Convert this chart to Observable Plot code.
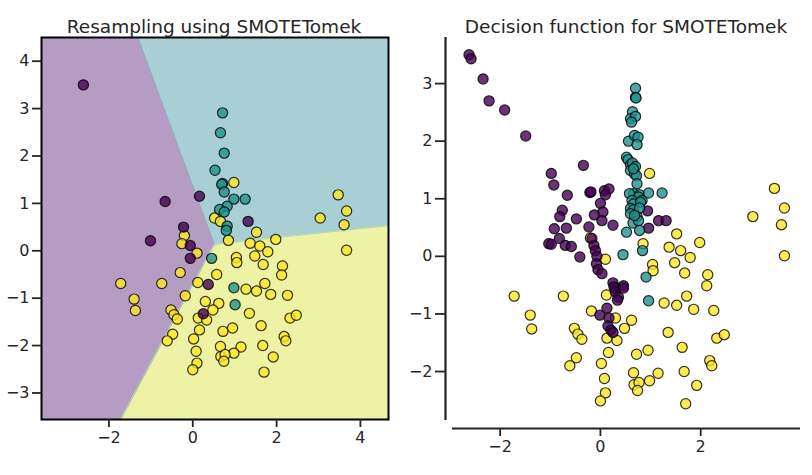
<!DOCTYPE html>
<html><head><meta charset="utf-8">
<script src="https://cdn.jsdelivr.net/npm/d3@7"></script>
<script src="https://cdn.jsdelivr.net/npm/@observablehq/plot@0.6"></script>
<style>
body{margin:0;background:#fff;font-family:"DejaVu Sans",sans-serif;}
#wrap{position:relative;width:812px;height:475px;overflow:hidden;}
.title{position:absolute;top:18px;font-size:18.5px;line-height:18px;color:#262626;white-space:nowrap;transform:translateX(-50%);}
#left{position:absolute;left:0;top:0}
#right{position:absolute;left:400px;top:0}
</style></head><body>
<div id="wrap">
<div id="left"></div><div id="right"></div>
<div class="title" style="left:214px">Resampling using SMOTETomek</div>
<div class="title" style="left:626px">Decision function for SMOTETomek</div>
</div>
<script>
// class colours (viridis)
const classColors = ["#440154", "#21918c", "#fde725"];
const regionColors = ["#b49cc3", "#a8cfd3", "#eef2a4"];

// left panel: original samples
const leftPurple = [[-2.61,3.50],[-0.66,1.04],[0.16,1.15],[1.32,0.62],[-0.22,0.50],[-1.01,0.21],[-0.06,0.11],[-0.06,-0.16],[0.37,-0.71],[0.25,-1.33]];
const leftTeal = [[0.71,2.91],[0.66,2.49],[0.75,2.06],[0.53,1.70],[0.71,1.42],[0.69,1.40],[0.75,1.24],[0.98,1.09],[1.25,1.09],[0.82,0.94],[0.64,0.87],[0.75,0.82],[0.82,0.52],[0.80,0.43],[0.45,-0.16],[0.98,-0.78],[1.01,-1.14]];
const leftYellow = [[0.98,1.44],[0.52,0.69],[0.66,0.62],[-0.20,0.32],[-0.26,0.15],[0.10,-0.05],[0.85,0.22],[1.52,0.39],[1.98,0.24],[1.37,0.16],[1.60,0.10],[1.79,-0.02],[1.48,-0.11],[1.04,-0.14],[3.47,1.18],[3.67,0.84],[3.04,0.69],[3.61,0.55],[3.67,0.01],[1.05,-0.25],[1.68,-0.29],[2.14,-0.32],[2.12,-0.51],[-0.30,-0.46],[0.57,-0.50],[-1.72,-0.69],[-0.74,-0.69],[0.12,-0.67],[1.27,-0.81],[1.52,-0.85],[1.72,-0.69],[1.86,-0.92],[2.26,-0.94],[-1.40,-1.02],[-1.37,-1.26],[-0.18,-0.95],[0.30,-1.07],[0.62,-1.11],[0.48,-1.25],[-0.52,-1.25],[-0.45,-1.35],[-0.37,-1.44],[0.13,-1.42],[0.33,-1.46],[1.35,-1.32],[2.32,-1.42],[2.47,-1.36],[0.16,-1.67],[0.72,-1.70],[0.95,-1.63],[1.63,-1.58],[-0.48,-1.76],[-0.61,-1.90],[0.02,-1.86],[2.18,-1.81],[2.22,-1.90],[0.66,-2.02],[1.15,-2.03],[1.67,-2.00],[0.08,-2.12],[0.98,-2.16],[0.67,-2.23],[0.77,-2.19],[0.74,-2.33],[1.92,-2.24],[0.10,-2.37],[0.00,-2.51],[1.70,-2.56]];

// left panel: decision region boundaries
const purpleEdge = [[-1.31,4.50],[0.514,0.134],[-1.72,-3.56]];
const yellowEdge = [[-1.72,-3.56],[0.514,0.134],[4.67,0.53]];

// right panel: resampled samples
const rightPurple = [[-2.62,3.50],[-2.58,3.43],[-2.34,3.08],[-2.22,2.70],[-1.91,2.54],[-1.49,2.09],[-0.34,1.58],[-0.98,1.44],[-0.93,1.24],[-0.66,1.06],[-0.21,1.11],[-0.19,1.12],[0.08,1.14],[0.17,1.17],[0.10,1.07],[0.00,0.92],[-0.76,0.80],[-0.81,0.69],[-0.48,0.65],[-0.12,0.72],[0.05,0.77],[0.03,0.62],[0.25,0.54],[-0.92,0.48],[-0.68,0.49],[-0.23,0.51],[0.94,0.79],[1.16,0.62],[1.31,0.62],[0.96,0.49],[-1.03,0.22],[-0.98,0.21],[-0.82,0.31],[-0.70,0.19],[-0.58,0.17],[-0.41,-0.01],[-0.17,0.31],[-0.13,0.19],[-0.10,0.10],[-0.07,0.00],[-0.08,-0.13],[-0.05,-0.23],[0.03,-0.30],[0.25,-0.46],[0.46,-0.51],[0.30,-0.56],[0.27,-0.53],[0.30,-0.62],[0.36,-0.71],[0.46,-0.55],[0.34,-0.76],[0.13,-0.90],[-0.01,-1.02],[0.17,-1.07],[0.15,-1.21],[0.21,-1.28],[0.25,-1.32]];
const rightTeal = [[0.70,2.92],[0.70,2.76],[0.71,2.75],[0.64,2.51],[0.60,2.39],[0.70,2.43],[0.62,2.33],[0.56,2.00],[0.68,2.10],[0.75,2.07],[0.73,1.94],[0.52,1.72],[0.55,1.68],[0.60,1.59],[0.64,1.62],[0.70,1.56],[0.60,1.49],[0.68,1.43],[0.72,1.40],[0.66,1.52],[0.73,1.26],[0.66,1.09],[0.78,1.07],[0.96,1.10],[1.23,1.10],[0.58,1.09],[0.76,1.03],[0.83,0.97],[0.63,0.97],[0.66,0.91],[0.80,0.94],[0.60,0.83],[0.66,0.81],[0.78,0.84],[0.60,0.74],[0.73,0.69],[0.65,0.58],[0.76,0.62],[0.68,0.71],[0.78,0.45],[0.52,0.42],[0.84,0.10],[0.45,0.03],[0.91,-0.36],[0.96,-0.77]];
const rightYellow = [[0.98,1.44],[-0.20,0.32],[0.10,-0.05],[0.85,0.22],[1.52,0.39],[1.98,0.24],[1.37,0.16],[1.60,0.10],[1.79,-0.02],[1.48,-0.11],[1.04,-0.14],[3.47,1.18],[3.67,0.84],[3.04,0.69],[3.61,0.55],[3.67,0.01],[1.05,-0.25],[1.68,-0.29],[2.14,-0.32],[2.12,-0.51],[-1.72,-0.69],[-0.74,-0.69],[0.12,-0.67],[1.27,-0.81],[1.52,-0.85],[1.72,-0.69],[1.86,-0.92],[2.26,-0.94],[-1.40,-1.02],[-1.37,-1.26],[-0.18,-0.95],[0.30,-1.07],[0.62,-1.11],[0.48,-1.25],[-0.52,-1.25],[-0.45,-1.35],[-0.37,-1.44],[0.13,-1.42],[0.33,-1.46],[1.35,-1.32],[2.32,-1.42],[2.47,-1.36],[0.16,-1.67],[0.72,-1.70],[0.95,-1.63],[1.63,-1.58],[-0.48,-1.76],[-0.61,-1.90],[0.02,-1.86],[2.18,-1.81],[2.22,-1.90],[0.66,-2.02],[1.15,-2.03],[1.67,-2.00],[0.08,-2.12],[0.98,-2.16],[0.67,-2.23],[0.77,-2.19],[0.74,-2.33],[1.92,-2.24],[0.10,-2.37],[0.00,-2.51],[1.70,-2.56]];

// axes
const leftXDomain = [-3.61, 4.67], leftYDomain = [-3.56, 4.50];
const rightXDomain = [-2.95, 3.99], rightYDomain = [-2.85, 3.80];
const leftXTicks = [-2, 0, 2, 4], leftYTicks = [-3, -2, -1, 0, 1, 2, 3, 4];
const rightXTicks = [-2, 0, 2], rightYTicks = [-2, -1, 0, 1, 2, 3];

const fmt = d => d < 0 ? "\u2212" + Math.abs(d) : String(d);
const toRows = (arr, c) => arr.map(([x, y]) => ({x, y, c}));
const leftPts = [...toRows(leftYellow, 2), ...toRows(leftPurple, 0), ...toRows(leftTeal, 1)];
const rightPts = [...toRows(rightYellow, 2), ...toRows(rightPurple, 0), ...toRows(rightTeal, 1)];
const colorScale = {type: "ordinal", domain: [0, 1, 2], range: classColors};
const style = {fontFamily: "DejaVu Sans", fontSize: "16px", color: "#262626", background: "transparent", overflow: "visible"};
const dotOpts = {x: "x", y: "y", fill: "c", r: 5.1, stroke: "black", strokeWidth: 1.2, fillOpacity: 0.8, strokeOpacity: 0.8};

const leftPlot = Plot.plot({
  width: 400, height: 475,
  marginLeft: 41, marginRight: 12, marginTop: 37, marginBottom: 56,
  x: {domain: leftXDomain, label: null},
  y: {domain: leftYDomain, label: null},
  color: colorScale,
  style,
  marks: [
    Plot.frame({fill: regionColors[1], stroke: null}),
    Plot.areaX(purpleEdge, {y: d => d[1], x1: leftXDomain[0], x2: d => d[0], fill: regionColors[0]}),
    Plot.areaY(yellowEdge, {x: d => d[0], y1: leftYDomain[0], y2: d => d[1], fill: regionColors[2]}),
    Plot.line(purpleEdge, {x: d => d[0], y: d => d[1], stroke: "#8aa0b8", strokeWidth: 0.8}),
    Plot.line(yellowEdge, {x: d => d[0], y: d => d[1], stroke: "#a8cfa8", strokeWidth: 0.8}),
    Plot.dot(leftPts, dotOpts),
    Plot.frame({stroke: "black", strokeWidth: 2}),
    Plot.axisX({ticks: leftXTicks, tickFormat: fmt, tickSize: 8, tickPadding: 4, strokeWidth: 1.8, label: null}),
    Plot.axisY({ticks: leftYTicks, tickFormat: fmt, tickSize: 9, tickPadding: 3, strokeWidth: 1.8, label: null})
  ]
});
document.getElementById("left").append(leftPlot);

const rightPlot = Plot.plot({
  width: 412, height: 475,
  marginLeft: 52, marginRight: 12, marginTop: 37, marginBottom: 55,
  x: {domain: rightXDomain, label: null},
  y: {domain: rightYDomain, label: null},
  color: colorScale,
  style,
  marks: [
    Plot.dot(rightPts, dotOpts),
    Plot.ruleX([rightXDomain[0]], {dx: -7, stroke: "#222", strokeWidth: 2.2}),
    Plot.ruleY([rightYDomain[0]], {dy: 8, stroke: "#222", strokeWidth: 2.2}),
    Plot.axisX({ticks: rightXTicks, tickFormat: fmt, tickSize: 8, tickPadding: 4, strokeWidth: 1.8, dy: 8, label: null}),
    Plot.axisY({ticks: rightYTicks, tickFormat: fmt, tickSize: 10, tickPadding: 3, strokeWidth: 1.8, dx: -7, label: null})
  ]
});
document.getElementById("right").append(rightPlot);
</script>
</body></html>
